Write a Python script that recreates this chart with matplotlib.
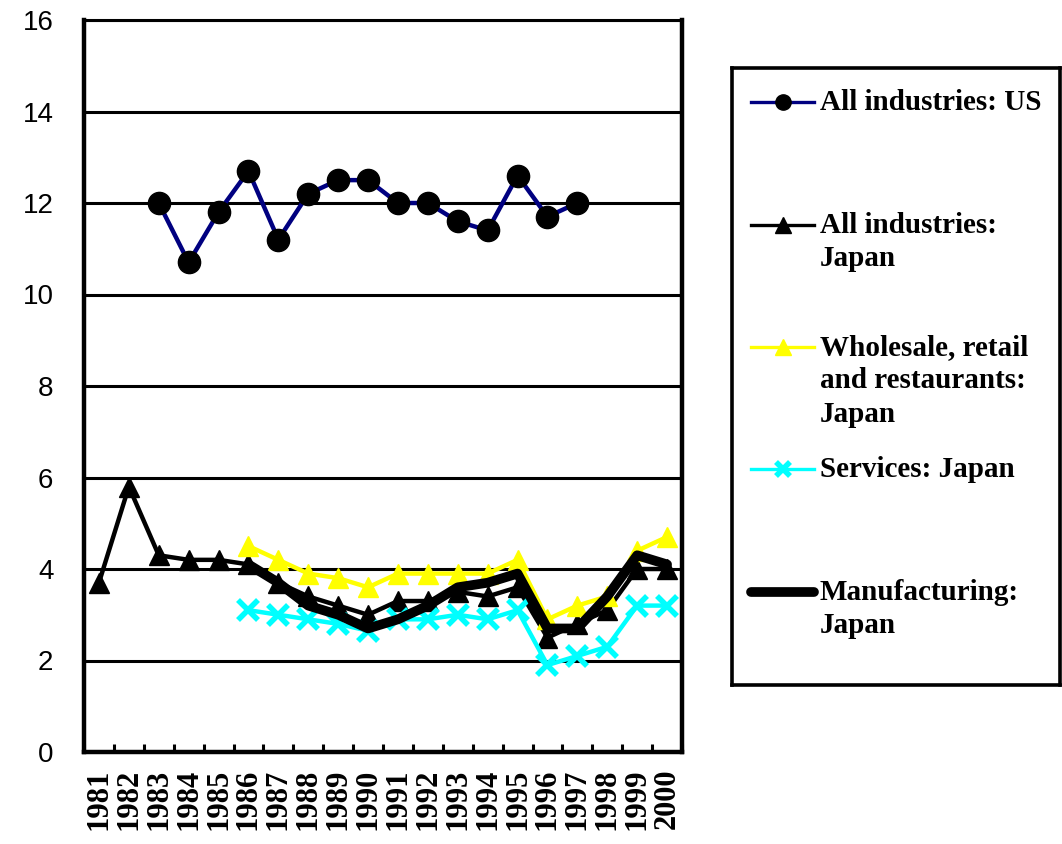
import numpy as np
import matplotlib
matplotlib.use('Agg')
import matplotlib.pyplot as plt
from matplotlib.lines import Line2D

nan = np.nan
years = [str(y) for y in range(1981, 2001)]

us_all = [nan, nan, 12.0, 10.7, 11.8, 12.7, 11.2, 12.2, 12.5, 12.5,
          12.0, 12.0, 11.6, 11.4, 12.6, 11.7, 12.0, nan, nan, nan]
jp_all = [3.7, 5.8, 4.3, 4.2, 4.2, 4.1, 3.7, 3.4, 3.2, 3.0,
          3.3, 3.3, 3.5, 3.4, 3.6, 2.5, 2.8, 3.1, 4.0, 4.0]
jp_wholesale = [nan, nan, nan, nan, nan, 4.5, 4.2, 3.9, 3.8, 3.6,
                3.9, 3.9, 3.9, 3.9, 4.2, 2.9, 3.2, 3.4, 4.4, 4.7]
jp_services = [nan, nan, nan, nan, nan, 3.1, 3.0, 2.9, 2.8, 2.65,
               2.9, 2.9, 3.0, 2.9, 3.1, 1.9, 2.1, 2.3, 3.2, 3.2]
jp_manuf = [nan, nan, nan, nan, nan, 4.1, 3.7, 3.2, 3.0, 2.7,
            2.9, 3.2, 3.6, 3.7, 3.9, 2.7, 2.7, 3.4, 4.3, 4.1]

labels = ['All industries: US', 'All industries:\nJapan',
          'Wholesale, retail\nand restaurants:\nJapan', 'Services: Japan',
          'Manufacturing:\nJapan']

serif = ['Liberation Serif', 'DejaVu Serif']
sans = ['Liberation Sans', 'DejaVu Sans']

fig = plt.figure(figsize=(10.62, 8.44), dpi=100, facecolor='white')
ax = fig.add_axes([84 / 1062, 1 - 752 / 844, 598 / 1062, 732 / 844])

x = np.arange(len(years))
styles = [
    dict(color='#000080', lw=3.2, marker='o', ms=16, mfc='black', mec='black'),
    dict(color='black', lw=3.2, marker='^', ms=15, mfc='black', mec='black'),
    dict(color='#FFFF00', lw=3.2, marker='^', ms=15, mfc='#FFFF00', mec='#FFFF00'),
    dict(color='#00FFFF', lw=3.2, marker='x', ms=14, mew=4),
    dict(color='black', lw=7, marker=None, solid_capstyle='round',
         solid_joinstyle='round'),
]
series = [us_all, jp_all, jp_wholesale, jp_services, jp_manuf]
for i, (s, st) in enumerate(zip(series, styles)):
    ax.plot(x, s, zorder=3 + i, clip_on=False, **st)

ax.set_xlim(-0.5, len(years) - 0.5)
ax.set_ylim(0, 16)
ax.set_yticks(np.arange(0, 17, 2))
ax.set_yticklabels([str(v) for v in range(0, 17, 2)], family=sans, fontsize=20)
ax.tick_params(axis='y', length=0, pad=22)
ax.grid(axis='y', color='black', lw=2.2, zorder=1)
ax.set_axisbelow(True)

ax.set_xticks(x)
ax.set_xticklabels(years, rotation=90, family=serif, fontweight='bold', fontsize=22)
ax.tick_params(axis='x', length=0, pad=12)
ax.set_xticks(np.arange(-0.5, len(years)), minor=True)
ax.tick_params(axis='x', which='minor', direction='in', length=6, width=2.2)

for side in ['left', 'right', 'bottom']:
    ax.spines[side].set_linewidth(3.2)
ax.spines['top'].set_linewidth(2.2)

# legend box drawn by hand
lax = fig.add_axes([732 / 1062, 1 - 685 / 844, 328 / 1062, 617 / 844])
lax.set_xlim(0, 328)
lax.set_ylim(617, 0)
lax.set_xticks([])
lax.set_yticks([])
for side in lax.spines.values():
    side.set_linewidth(2.6)
handle_y = [34, 157, 279, 401, 524]
for hy, lab, st in zip(handle_y, labels, styles):
    st2 = dict(st)
    if st2.get('marker'):
        st2['ms'] = 11 if st2['marker'] != 'x' else 10
        st2['lw'] = 2.4
        st2['markevery'] = [1]
    lax.add_line(Line2D([19, 51, 82], [hy, hy, hy], **st2))
    lax.text(88, hy - 13, lab, family=serif, fontweight='bold', fontsize=21,
             va='top', ha='left', linespacing=1.3)

fig.savefig('out.png', dpi=100)
